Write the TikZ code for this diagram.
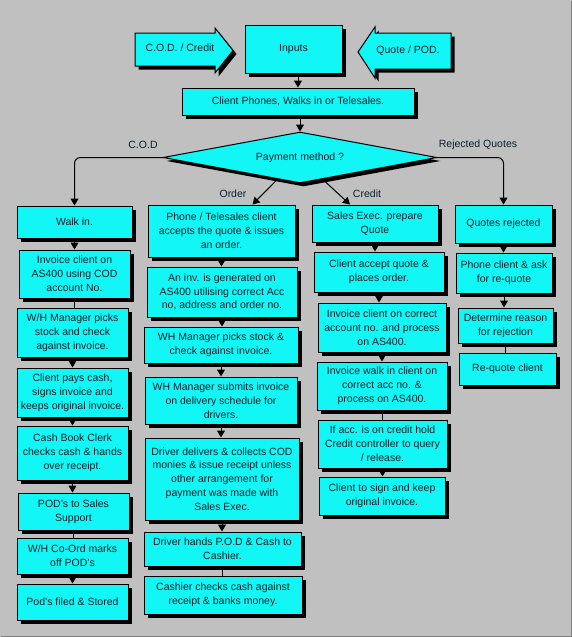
\documentclass[tikz,border=0pt]{standalone}
\usepackage{fontspec}
\setmainfont{Liberation Sans}
\usetikzlibrary{shapes.geometric, shadows, arrows.meta}
\definecolor{boxcyan}{RGB}{18,246,246}
\definecolor{paper}{RGB}{192,192,192}
\definecolor{ink}{RGB}{12,32,42}

\tikzset{
  boxshadow/.style={drop shadow={shadow xshift=3.5pt, shadow yshift=-3.5pt, fill=black, opacity=1}},
  stepbox/.style={draw=black, fill=boxcyan, line width=1pt, boxshadow, align=center,
    inner sep=0pt, text=ink, font=\fontsize{10.5}{13.8}\selectfont},
  lbl/.style={text=ink, inner sep=0pt, font=\fontsize{10.5}{13.8}\selectfont},
}

\begin{document}
\begin{tikzpicture}[x=1pt,y=-1pt, >={Triangle[length=7pt,width=8pt]}, ->, line width=1pt]
    \fill[-, paper] (0,0) rectangle (572,637);
    \useasboundingbox (0,0) rectangle (572,637);
    \draw[-, line width=1pt, black!50] (0.5,636.5) -- (571.5,636.5) -- (571.5,0.5);

    % inputs
    \draw[-, draw=black, fill=boxcyan, boxshadow] (135,33) -- (215,33) -- (215,28) -- (233,50.5)
        -- (215,73) -- (215,66) -- (135,66) -- cycle;
    \draw[-, draw=black, fill=boxcyan, boxshadow] (451,33) -- (375,33) -- (375,27) -- (358,52)
        -- (375,78) -- (375,69) -- (451,69) -- cycle;
    \node[lbl] (codin) at (180,48) {C.O.D. / Credit};
    \node[lbl] (quotein) at (408,51) {Quote / POD.};
    \node[stepbox, minimum width=97pt, minimum height=48pt] (inputs) at (293.5,49) {Inputs};
    \node[stepbox, minimum width=232pt, minimum height=27pt] (client) at (298,101.5) {Client Phones, Walks in or Telesales.};
    \node[stepbox, diamond, aspect=5.4, minimum width=274pt, minimum height=51pt] (pay) at (300,157.5) {Payment method ?};

    % C.O.D column
    \node[stepbox, minimum width=115pt, minimum height=32pt] (walk) at (74.5,222) {Walk in.};
    \node[stepbox, minimum width=111pt, minimum height=48pt] (inv1) at (74.5,274) {Invoice client on\\AS400 using COD\\account No.};
    \node[stepbox, minimum width=111pt, minimum height=49pt] (whm1) at (72.5,332.5) {W/H Manager picks\\stock and check\\against invoice.};
    \node[stepbox, minimum width=111pt, minimum height=49pt] (pays) at (72.5,392.5) {Client pays cash,\\signs invoice and\\keeps original invoice.};
    \node[stepbox, minimum width=111pt, minimum height=54pt] (cbc) at (72.5,453) {Cash Book Clerk\\checks cash \& hands\\over receipt.};
    \node[stepbox, minimum width=111pt, minimum height=37pt] (pods) at (73.5,511.5) {POD's to Sales\\Support};
    \node[stepbox, minimum width=111pt, minimum height=36pt] (whco) at (72.5,556) {W/H Co-Ord marks\\off POD's};
    \node[stepbox, minimum width=111pt, minimum height=36pt] (filed) at (72.5,602) {Pod's filed \& Stored};

    % Order column
    \node[stepbox, minimum width=147pt, minimum height=52pt] (phone) at (221.5,231) {Phone / Telesales client\\accepts the quote \& issues\\an order.};
    \node[stepbox, minimum width=150pt, minimum height=50pt] (gen) at (222,292) {An inv. is generated on\\AS400 utilising correct Acc\\no, address and order no.};
    \node[stepbox, minimum width=154pt, minimum height=36pt] (whm2) at (221,345) {WH Manager picks stock \&\\check against invoice.};
    \node[stepbox, minimum width=152pt, minimum height=47pt] (subm) at (221,400.5) {WH Manager submits invoice\\on delivery schedule for\\drivers.};
    \node[stepbox, minimum width=154pt, minimum height=82pt] (drv) at (222,479) {Driver delivers \& collects COD\\monies \& issue receipt unless\\other arrangement for\\payment was made with\\Sales Exec.};
    \node[stepbox, minimum width=157pt, minimum height=34pt] (hands) at (222.5,549) {Driver hands P.O.D \& Cash to\\Cashier.};
    \node[stepbox, minimum width=158pt, minimum height=38pt] (cashier) at (223,595) {Cashier checks cash against\\receipt \& banks money.};

    % Credit column
    \node[stepbox, minimum width=126pt, minimum height=37pt] (sales) at (375,223.5) {Sales Exec. prepare\\Quote};
    \node[stepbox, minimum width=130pt, minimum height=40pt] (accept) at (379,272) {Client accept quote \&\\places order.};
    \node[stepbox, minimum width=128pt, minimum height=49pt] (invc) at (382,327.5) {Invoice client on correct\\account no. and process\\on AS400.};
    \node[stepbox, minimum width=130pt, minimum height=48pt] (invw) at (382,386) {Invoice walk in client on\\correct acc no. \&\\process on AS400.};
    \node[stepbox, minimum width=129pt, minimum height=48pt] (hold) at (382.5,444) {If acc. is on credit hold\\Credit controller to query\\/ release.};
    \node[stepbox, minimum width=126pt, minimum height=38pt] (sign) at (382,496) {Client to sign and keep\\original invoice.};

    % Rejected column
    \node[stepbox, minimum width=97pt, minimum height=38pt] (rej) at (503.5,224) {Quotes rejected};
    \node[stepbox, minimum width=96pt, minimum height=40pt] (phonec) at (504,273) {Phone client \& ask\\for re-quote};
    \node[stepbox, minimum width=95pt, minimum height=35pt] (det) at (505.5,325.5) {Determine reason\\for rejection};
    \node[stepbox, minimum width=97pt, minimum height=32pt] (requote) at (507.5,369) {Re-quote client};

    % connectors
    \draw (inputs.south -| client.north) -- (client.north);
    \draw (client.south -| pay.north) -- (pay.north);
    \draw[rounded corners=6pt] (pay.west) -| (walk.north);
    \draw[rounded corners=6pt] (pay.east) -| (rej.north);
    \draw (pay.224) -- ([xshift=31pt]phone.north);
    \draw (pay.316) -- ([xshift=-25pt]sales.north);
    \node[lbl] (codlbl) at (143,145) {C.O.D};
    \node[lbl] (rejlbl) at (478,145) {Rejected Quotes};
    \node[lbl] (ordlbl) at (233,194) {Order};
    \node[lbl] (crdlbl) at (367,194) {Credit};

    \foreach \a/\b in {walk/inv1, whm1/pays, pays/cbc, cbc/pods, whco/filed,
        phone/gen, gen/whm2, whm2/subm, subm/drv, drv/hands,
        sales/accept, accept/invc, invc/invw, hold/sign, rej/phonec, phonec/det}
        {\draw (\a.south) -- (\a.south |- \b.north);}
    \foreach \a/\b in {inv1/whm1, pods/whco, hands/cashier, invw/hold, det/requote}
        {\draw[-] (\a.south) -- (\a.south |- \b.north);}
\end{tikzpicture}
\end{document}
